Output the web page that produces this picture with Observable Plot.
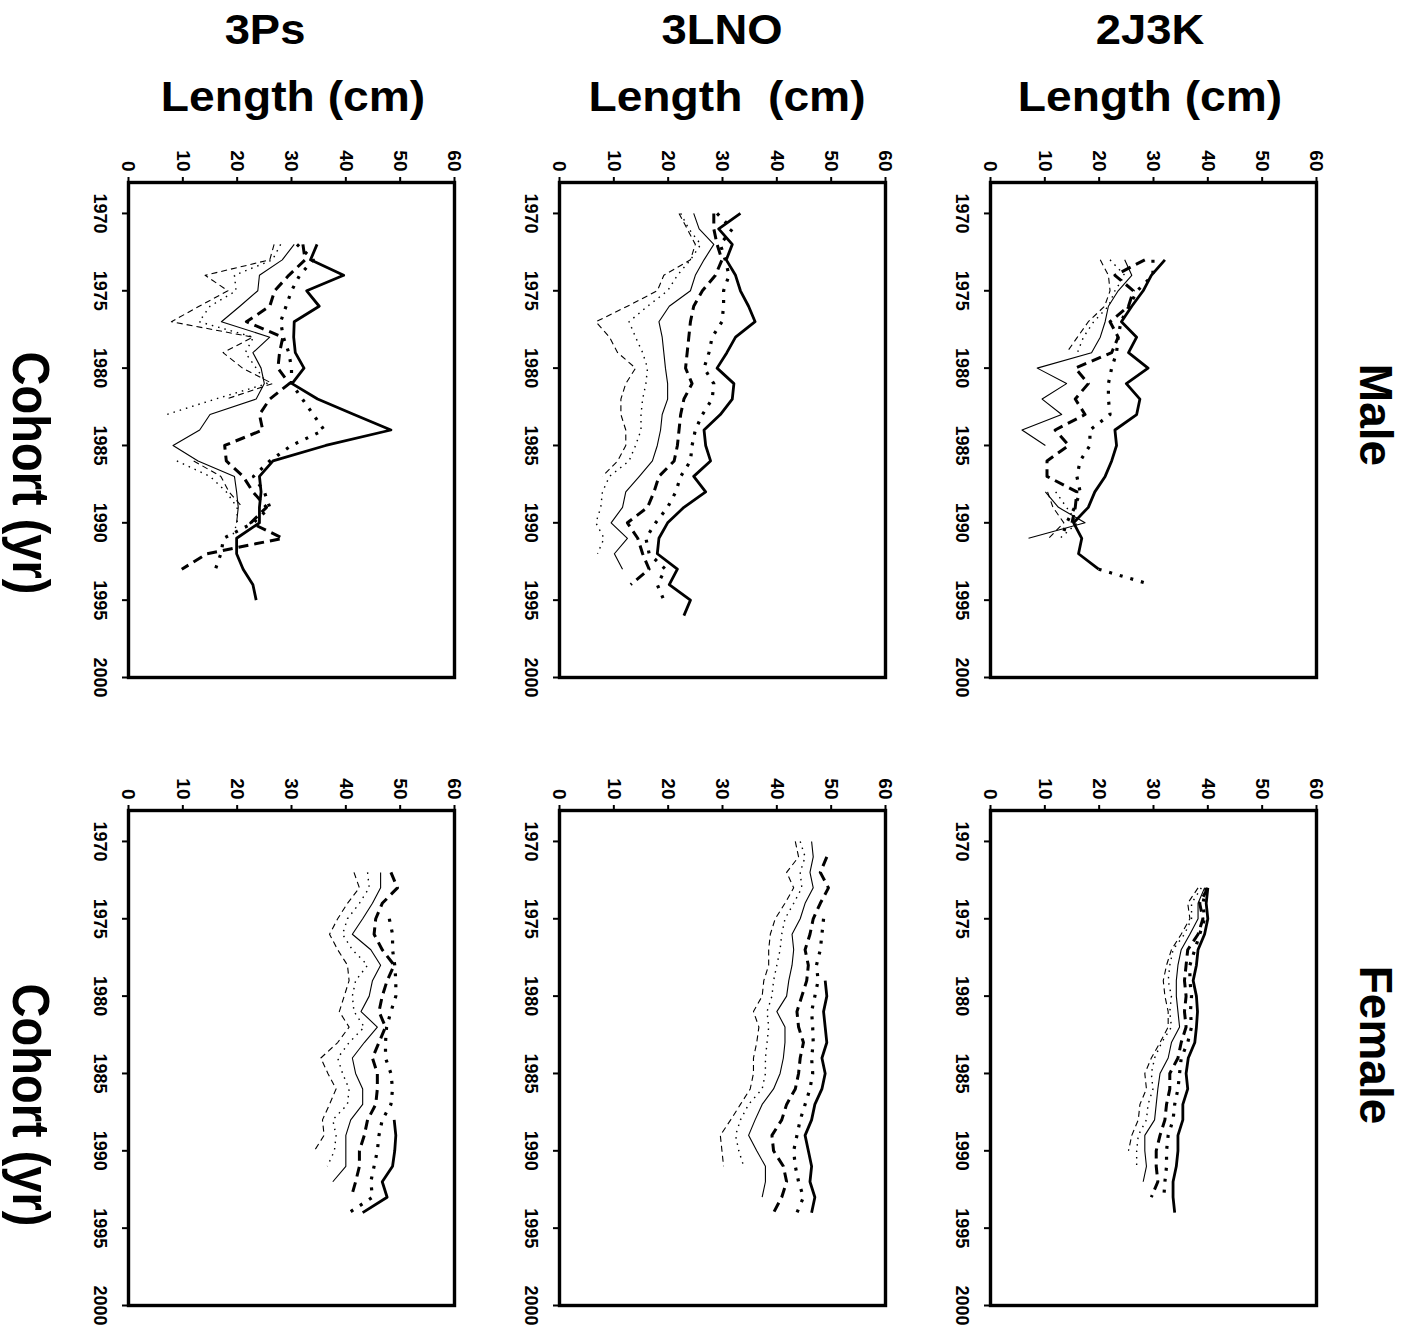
<!DOCTYPE html>
<html><head><meta charset="utf-8">
<script src="https://cdn.jsdelivr.net/npm/d3@7"></script>
<script src="https://cdn.jsdelivr.net/npm/@observablehq/plot@0.6"></script>
<style>
body{margin:0;background:#fff;}
#root{position:relative;width:1417px;height:1337px;overflow:hidden;font-family:"Liberation Sans",Arial,sans-serif;font-weight:bold;color:#000;background:#fff;}
.lbl{position:absolute;white-space:pre;line-height:1;}
.panel{position:absolute;}
</style></head><body><div id="root"></div>
<script>
// ---------- axis ticks ----------
const lengthTicks = [0, 10, 20, 30, 40, 50, 60];
const cohortTicks = [1970, 1975, 1980, 1985, 1990, 1995, 2000];
const regions = ["3Ps", "3LNO", "2J3K"];
const sexes = ["Male", "Female"];

// ---------- Male 3Ps (cohorts from 1972) ----------
const m3Ps_start = 1972;
const m3Ps_thinDash   = [26.8,26.0,14.1,18.3,13.0,7.9,22.9,17.4,21.0,26.5,18.0,null,null,null,12.0,17.0,18.5,21.0];
const m3Ps_thinDot    = [28.0,26.5,19.5,19.8,15.0,13.0,23.0,21.5,23.5,25.5,16.0,7.0,null,null,8.9,15.0,18.0,20.0,20.0,19.0];
const m3Ps_thinSolid  = [30.5,28.3,24.1,23.8,20.5,17.1,26.0,22.9,24.4,25.0,23.5,15.0,13.1,8.2,12.8,19.5,19.9,20.2,19.9];
const m3Ps_thickDash  = [32.1,32.5,29.5,26.9,26.0,21.7,28.4,27.8,27.5,29.6,26.0,24.1,24.7,17.7,18.0,21.1,22.9,25.4,22.5,28.4,14.4,9.8];
const m3Ps_thickDot   = [31.0,34.0,31.5,30.0,29.0,28.0,28.5,29.5,30.0,30.0,32.0,34.0,36.0,30.0,26.0,23.0,25.0,26.0,23.0,17.5,17.0,16.0];
const m3Ps_thickSolid = [34.7,33.5,39.6,32.8,35.1,30.5,30.4,30.7,32.3,30.1,34.8,41.5,48.3,36.3,26.6,24.1,24.4,24.1,24.1,19.9,19.9,21.1,22.9,23.5];

// ---------- Male 3LNO (cohorts from 1970) ----------
const m3LNO_start = 1970;
const m3LNO_thinDash   = [22.0,23.5,25.0,24.1,19.2,18.0,12.5,6.7,9.2,10.7,14.0,12.2,11.3,11.3,12.2,12.2,10.7,7.9];
const m3LNO_thinDot    = [22.3,23.8,26.0,24.1,21.7,19.9,16.2,12.8,14.0,15.3,16.2,15.9,15.3,15.0,15.0,14.0,12.8,9.2,7.9,7.6,6.7,8.2,7.0];
const m3LNO_thinSolid  = [24.7,25.7,28.4,26.6,25.0,24.1,20.2,18.3,18.9,19.2,19.5,19.9,19.9,18.9,18.6,18.0,17.1,14.7,12.2,11.6,9.5,12.5,10.1,11.6];
const m3LNO_thickDash  = [28.4,28.4,29.0,29.9,28.7,26.3,24.7,24.1,23.8,23.5,23.2,24.4,22.9,22.3,22.0,21.7,21.1,18.3,17.4,16.2,12.5,14.4,15.3,16.5,13.1];
const m3LNO_thickDot   = [29.0,31.8,29.6,30.5,31.2,30.2,30.2,29.9,28.1,27.5,26.6,28.4,28.1,26.3,25.0,24.4,24.1,22.3,21.4,19.9,17.7,15.9,16.5,19.5,18.0,19.2];
const m3LNO_thickSolid = [33.3,29.3,31.8,30.7,32.4,33.3,34.8,36.0,32.4,30.8,29.0,32.1,31.8,29.6,26.6,26.9,27.8,24.7,26.9,22.9,19.9,18.3,18.0,21.7,20.2,24.1,22.9];

// ---------- Male 2J3K (cohorts from 1973) ----------
const m2J3K_start = 1973;
const m2J3K_thinDash   = [20.2,21.7,22.0,21.0,18.0,16.0,14.0,null,null,null,null,null,null,null,null,10.5,11.5,13.5,10.7];
const m2J3K_thinDot    = [22.0,24.7,22.9,21.7,19.0,17.1,16.0,null,null,null,null,null,null,null,null,12.0,14.0,16.0,12.8];
const m2J3K_thinSolid  = [24.7,26.0,23.5,21.7,21.1,20.2,18.6,8.6,14.0,9.5,13.1,5.8,10.1,null,null,10.1,12.5,17.4,7.0];
const m2J3K_thickDash  = [28.4,22.9,26.3,25.4,22.0,23.5,22.3,15.6,18.0,15.6,17.4,11.9,14.4,10.4,10.4,15.9,15.6,15.0];
const m2J3K_thickDot   = [29.9,29.9,27.0,25.5,24.0,23.5,23.2,22.3,21.7,21.7,22.0,18.3,18.3,16.5,15.9,16.5,15.5,14.0,13.1,null,19.9,29.6];
const m2J3K_thickSolid = [32.1,29.6,28.1,26.0,24.1,26.9,25.4,29.0,25.0,27.5,26.9,22.9,23.2,22.3,21.1,19.2,18.0,15.3,16.8,16.2,19.9];

// ---------- Female 3Ps (cohorts from 1972) ----------
const f3Ps_start = 1972;
const f3Ps_thinDash   = [41.5,42.5,40.3,38.5,37.0,38.5,40.3,40.6,39.7,38.8,40.6,38.5,35.4,36.7,38.2,37.0,35.7,36.0,34.2];
const f3Ps_thinDot    = [44.0,44.3,42.5,40.3,39.4,41.2,44.0,41.8,41.2,41.5,43.4,40.6,38.5,39.4,40.6,40.3,37.6,38.2,37.9,36.6];
const f3Ps_thinSolid  = [46.4,46.4,44.9,43.1,41.2,44.6,46.4,44.9,44.3,42.8,45.8,43.4,41.2,41.8,43.1,43.1,40.9,40.0,40.0,40.0,37.6];
const f3Ps_thickDash  = [48.3,49.5,46.7,45.5,45.2,46.7,48.9,47.6,46.7,46.1,47.3,46.1,44.9,45.8,45.8,45.5,44.0,43.4,42.5,42.5,41.8,41.0];
const f3Ps_thickDot   = [null,null,null,48.0,48.6,48.6,49.0,49.2,49.2,48.3,47.5,47.3,47.3,48.3,48.6,48.3,46.7,46.1,45.8,45.2,44.6,44.9,40.6];
const f3Ps_thickSolid = [null,null,null,null,null,null,null,null,null,null,null,null,null,null,null,null,48.9,49.2,49.0,48.6,46.7,47.6,43.1];

// ---------- Female 3LNO (cohorts from 1970) ----------
const f3LNO_start = 1970;
const f3LNO_thinDash   = [43.4,44.0,41.8,43.1,41.5,39.7,38.8,38.5,38.5,37.6,37.3,35.7,36.7,36.3,35.7,35.7,35.1,33.3,31.5,29.6,29.9,30.2];
const f3LNO_thinDot    = [44.3,45.2,44.3,44.6,43.1,41.5,40.9,40.6,40.0,39.4,39.1,38.2,38.5,38.2,37.9,37.9,37.3,34.8,33.3,32.4,33.0,33.9];
const f3LNO_thinSolid  = [46.4,46.7,46.1,46.7,45.2,44.3,42.8,43.1,42.8,42.2,41.8,40.0,41.5,41.5,41.2,40.6,39.4,37.3,36.0,34.8,36.3,37.9,37.9,37.3];
const f3LNO_thickDash  = [null,49.2,48.0,49.5,48.0,46.7,46.1,45.2,45.8,45.5,44.6,43.7,44.0,44.9,44.3,44.0,43.4,41.8,40.9,39.1,39.4,41.2,41.8,40.9,39.4];
const f3LNO_thickDot   = [null,null,null,null,null,48.6,48.3,48.0,47.3,47.6,47.0,46.4,46.6,46.7,46.4,46.6,46.1,45.2,44.3,43.7,43.1,43.4,44.0,44.9,43.7];
const f3LNO_thickSolid = [null,null,null,null,null,null,null,null,null,48.9,49.2,48.6,48.9,49.2,48.3,48.9,48.3,47.0,46.4,45.2,45.8,46.4,46.1,47.0,46.4];

// ---------- Female 2J3K (cohorts from 1973) ----------
const f2J3K_start = 1973;
const f2J3K_thinDash   = [38.2,36.3,36.7,35.1,33.3,32.4,31.8,32.1,32.7,32.7,31.2,29.6,28.4,28.7,27.5,27.2,26.0,25.4];
const f2J3K_thinDot    = [38.8,37.0,37.0,35.7,33.6,33.0,32.7,33.3,33.0,33.3,31.5,30.2,29.6,29.9,29.0,28.7,27.2,26.9,26.9];
const f2J3K_thinSolid  = [39.4,38.2,38.2,36.7,35.1,34.5,34.2,34.2,34.5,34.8,33.3,32.7,31.2,30.8,30.5,30.2,28.4,28.4,28.7,28.1];
const f2J3K_thickDash  = [40.0,38.5,39.1,38.2,36.3,36.0,35.7,36.0,35.7,36.0,35.1,34.5,33.0,33.0,32.4,32.1,31.2,30.5,30.5,30.8,29.6];
const f2J3K_thickDot   = [39.7,39.1,39.4,38.5,37.6,36.7,36.7,37.0,36.8,37.0,36.3,35.1,34.8,34.5,33.9,33.6,32.7,32.4,32.4,32.1,31.9];
const f2J3K_thickSolid = [40.0,39.7,40.0,39.4,38.2,37.9,37.3,37.9,38.1,37.9,37.6,36.4,36.0,36.3,35.4,35.4,34.5,34.5,34.2,33.6,33.6,33.9];

// ---------- styles ----------
const lineStyles = {
  thinDash:   {w: 1.1, dash: "6,4"},
  thinDot:    {w: 1.4, dash: "1.5,5"},
  thinSolid:  {w: 1.1, dash: null},
  thickDash:  {w: 3.0, dash: "10,6"},
  thickDot:   {w: 3.2, dash: "3,8"},
  thickSolid: {w: 2.8, dash: null}
};

function rows(start, vals) { return vals.map((v, i) => ({year: start + i, len: v})); }

const panelDefs = [
  {col: 0, row: 0, start: m3Ps_start,  s: {thinDash: m3Ps_thinDash, thinDot: m3Ps_thinDot, thinSolid: m3Ps_thinSolid, thickDash: m3Ps_thickDash, thickDot: m3Ps_thickDot, thickSolid: m3Ps_thickSolid}},
  {col: 1, row: 0, start: m3LNO_start, s: {thinDash: m3LNO_thinDash, thinDot: m3LNO_thinDot, thinSolid: m3LNO_thinSolid, thickDash: m3LNO_thickDash, thickDot: m3LNO_thickDot, thickSolid: m3LNO_thickSolid}},
  {col: 2, row: 0, start: m2J3K_start, s: {thinDash: m2J3K_thinDash, thinDot: m2J3K_thinDot, thinSolid: m2J3K_thinSolid, thickDash: m2J3K_thickDash, thickDot: m2J3K_thickDot, thickSolid: m2J3K_thickSolid}},
  {col: 0, row: 1, start: f3Ps_start,  s: {thinDash: f3Ps_thinDash, thinDot: f3Ps_thinDot, thinSolid: f3Ps_thinSolid, thickDash: f3Ps_thickDash, thickDot: f3Ps_thickDot, thickSolid: f3Ps_thickSolid}},
  {col: 1, row: 1, start: f3LNO_start, s: {thinDash: f3LNO_thinDash, thinDot: f3LNO_thinDot, thinSolid: f3LNO_thinSolid, thickDash: f3LNO_thickDash, thickDot: f3LNO_thickDot, thickSolid: f3LNO_thickSolid}},
  {col: 2, row: 1, start: f2J3K_start, s: {thinDash: f2J3K_thinDash, thinDot: f2J3K_thinDot, thinSolid: f2J3K_thinSolid, thickDash: f2J3K_thickDash, thickDot: f2J3K_thickDot, thickSolid: f2J3K_thickSolid}}
];

// ---------- layout ----------
const root = document.getElementById("root");
const frameLeft = [128, 558.5, 990];
const frameTop = [181.7, 810];
const FW = 326, FH = 495;
const mL = 60, mT = 60, mR = 12, mB = 12;

for (const p of panelDefs) {
  const marks = [];
  for (const key of Object.keys(p.s)) {
    const st = lineStyles[key];
    marks.push(Plot.line(rows(p.start, p.s[key]), {
      x: "len", y: "year", stroke: "#000", strokeWidth: st.w,
      strokeDasharray: st.dash, strokeLinecap: "butt", strokeLinejoin: "round"
    }));
  }
  marks.push(Plot.frame({stroke: "#000", strokeWidth: 3.4}));
  marks.push(Plot.axisX({anchor: "top", ticks: lengthTicks, tickSize: 6, tickFormat: () => "", label: null, strokeWidth: 2}));
  marks.push(Plot.axisY({anchor: "left", ticks: cohortTicks, tickSize: 6, tickFormat: () => "", label: null, strokeWidth: 2}));
  marks.push(Plot.text(lengthTicks, {ariaLabel: "len-labels", x: d => d, text: d => String(d), frameAnchor: "top", dy: -11, rotate: 90, textAnchor: "end", lineAnchor: "middle", fontSize: 19, fontWeight: "bold", fill: "#000"}));
  marks.push(Plot.text(cohortTicks, {ariaLabel: "year-labels", y: d => d, text: d => String(d), frameAnchor: "left", dx: -29, rotate: 90, textAnchor: "middle", lineAnchor: "middle", fontSize: 18, fontWeight: "bold", fill: "#000"}));
  const svg = Plot.plot({
    width: mL + FW + mR, height: mT + FH + mB,
    marginLeft: mL, marginTop: mT, marginRight: mR, marginBottom: mB,
    x: {domain: [0, 60]},
    y: {domain: [1968, 2000], reverse: true},
    style: {fontFamily: "'Liberation Sans', Arial, sans-serif", fontWeight: "bold", background: "transparent", overflow: "visible", color: "#000"},
    marks
  });
  svg.querySelectorAll('g[aria-label="len-labels"] text').forEach(t => {
    t.setAttribute("transform", (t.getAttribute("transform") || "") + " scale(1,1.15)");
  });
  svg.querySelectorAll('g[aria-label="year-labels"] text').forEach(t => {
    t.setAttribute("transform", (t.getAttribute("transform") || "") + " scale(1,1.25)");
  });
  svg.classList.add("panel");
  svg.style.left = (frameLeft[p.col] - mL) + "px";
  svg.style.top = (frameTop[p.row] - mT) + "px";
  root.appendChild(svg);
}

// ---------- titles ----------
function label(text, cx, baseline, size, extra) {
  const d = document.createElement("div");
  d.className = "lbl";
  d.textContent = text;
  d.style.fontSize = size + "px";
  d.style.left = cx + "px";
  d.style.top = (baseline - 0.8465 * size) + "px";
  d.style.transform = "translateX(-50%) " + (extra || "");
  root.appendChild(d);
}
function vlabel(text, cx, cy, size, stretch) {
  const d = document.createElement("div");
  d.className = "lbl";
  d.textContent = text;
  d.style.fontSize = size + "px";
  d.style.left = cx + "px";
  d.style.top = cy + "px";
  d.style.transform = `translate(-50%,-50%) rotate(90deg) scaleY(${stretch})`;
  root.appendChild(d);
}
const titleCx = [265, 722, 1150];
const lengthCx = [293, 727, 1150];
const lengthText = ["Length (cm)", "Length  (cm)", "Length (cm)"];
regions.forEach((r, i) => {
  label(r, titleCx[i], 45, 42, "scaleX(1.08)");
  label(lengthText[i], lengthCx[i], 112, 42, "scaleX(1.1)");
});
vlabel("Cohort (yr)", 31, 473, 47, 1.1);
vlabel("Cohort (yr)", 31, 1105, 47, 1.1);
vlabel(sexes[0], 1376, 415, 46, 1.0);
vlabel(sexes[1], 1376, 1045, 46, 1.0);
</script></body></html>
